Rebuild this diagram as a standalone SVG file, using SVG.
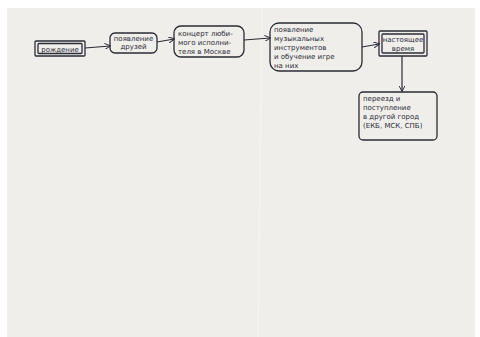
<svg xmlns="http://www.w3.org/2000/svg" width="480" height="337" viewBox="0 0 480 337">
<style>
.box{fill:none;stroke:#2b2b36;stroke-width:1.3}
.t{font-family:"DejaVu Sans","Noto Sans",sans-serif;font-size:7px;fill:#2b2b36}
.c{fill:none;stroke:#2b2b36;stroke-width:1.2;marker-end:url(#ah)}
</style>
<defs>
<marker id="ah" viewBox="0 0 10 10" refX="9" refY="5" markerWidth="6" markerHeight="6" orient="auto" markerUnits="userSpaceOnUse">
<path d="M0,0 L10,5 L0,10" fill="none" stroke="#2b2b36" stroke-width="1.6"/>
</marker>
</defs>
<rect x="0" y="0" width="480" height="337" fill="#ffffff"/>
<rect x="7" y="8" width="468" height="329" fill="#efeeeb"/>
<line x1="262" y1="8" x2="258" y2="337" stroke="#f4f3f1" stroke-width="1.5"/>

<g id="connectors">
<path class="c" d="M85,48 L110,46"/>
<path class="c" d="M157,42 L174,39"/>
<path class="c" d="M244,40 L270,38"/>
<path class="c" d="M362,47 L379,44"/>
<path class="c" d="M402,56 L402,91"/>
</g>

<g id="n1">
<rect class="box" x="35" y="41" width="50" height="15" rx="1"/>
<rect class="box" x="38" y="43.5" width="44" height="10" rx="1" stroke-width="1"/>
<text class="t" x="60" y="51.5" text-anchor="middle">рождение</text>
</g>

<g id="n2">
<rect class="box" x="110" y="33" width="47" height="20" rx="5"/>
<text class="t" x="133.5" y="41" text-anchor="middle" font-size="6.5">появление</text>
<text class="t" x="133.5" y="49" text-anchor="middle" font-size="6.5">друзей</text>
</g>

<g id="n3">
<rect class="box" x="174" y="26" width="70" height="31" rx="7"/>
<text class="t" x="178" y="36">концерт люби-</text>
<text class="t" x="178" y="45">мого исполни-</text>
<text class="t" x="178" y="54">теля в Москве</text>
</g>

<g id="n4">
<rect class="box" x="270" y="23" width="92" height="48" rx="9"/>
<text class="t" x="274" y="32">появление</text>
<text class="t" x="274" y="41">музыкальных</text>
<text class="t" x="274" y="50">инструментов</text>
<text class="t" x="274" y="59">и обучение игре</text>
<text class="t" x="274" y="68">на них</text>
</g>

<g id="n5">
<rect class="box" x="379" y="31" width="48" height="25" rx="1" stroke-width="1.8"/>
<rect class="box" x="382" y="34" width="42" height="19" rx="1" stroke-width="1"/>
<text class="t" x="403" y="42" text-anchor="middle" font-size="6.2">настоящее</text>
<text class="t" x="403" y="50.5" text-anchor="middle" font-size="6.5">время</text>
</g>

<g id="n6">
<rect class="box" x="359" y="92" width="78" height="48" rx="4"/>
<text class="t" x="363" y="101">переезд и</text>
<text class="t" x="363" y="110">поступление</text>
<text class="t" x="363" y="119">в другой город</text>
<text class="t" x="363" y="128">(ЕКБ, МСК, СПБ)</text>
</g>
</svg>
